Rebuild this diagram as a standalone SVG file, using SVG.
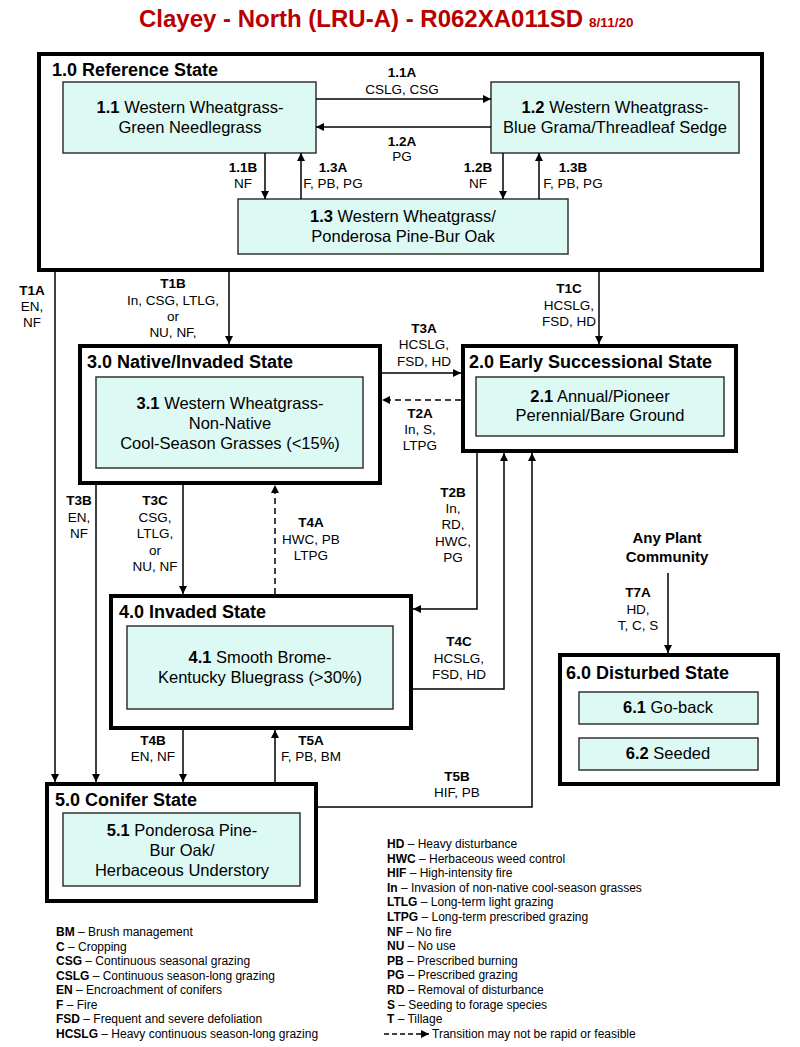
<svg xmlns="http://www.w3.org/2000/svg" width="800" height="1047" viewBox="0 0 800 1047">
<defs>
<marker id="ah" viewBox="0 0 10 10" refX="10" refY="5" markerWidth="9" markerHeight="8" markerUnits="userSpaceOnUse" orient="auto">
<path d="M0,0 L10,5 L0,10 z" fill="#000"/>
</marker>
<style>
text{font-family:"Liberation Sans",Arial,sans-serif;fill:#000}
.title{font-size:24px;font-weight:bold;fill:#b80000}
.date{font-size:13.5px;font-weight:bold;fill:#b80000}
.state{fill:#fff;stroke:#000;stroke-width:4}
.comm{fill:#ddf9f4;stroke:#333;stroke-width:1.5}
.sl{font-size:18px;font-weight:bold}
.ct{font-size:16.5px;text-anchor:middle}
.b{font-weight:bold}
.tl{font-size:13.5px;text-anchor:middle}
.c{fill:none;stroke:#000;stroke-width:1.5}
.a{marker-end:url(#ah)}
.d{stroke-dasharray:6,4}
.lg{font-size:12px}
</style>
</defs>
<rect width="800" height="1047" fill="#fff"/>
<text class="title" x="139" y="27">Clayey - North (LRU-A) - R062XA011SD<tspan class="date" dx="6">8/11/20</tspan></text>

<g id="state1">
<rect class="state" x="39" y="54" width="723" height="216"/>
<text class="sl" x="52" y="76">1.0 Reference State</text>
</g>
<g id="c1_1">
<rect class="comm" x="63" y="82" width="253" height="71"/>
<text class="ct" x="190" y="113"><tspan class="b">1.1</tspan> Western Wheatgrass-</text>
<text class="ct" x="190" y="133">Green Needlegrass</text>
</g>
<g id="c1_2">
<rect class="comm" x="491" y="82" width="248" height="71"/>
<text class="ct" x="615" y="113"><tspan class="b">1.2</tspan> Western Wheatgrass-</text>
<text class="ct" x="615" y="133">Blue Grama/Threadleaf Sedge</text>
</g>
<g id="c1_3">
<rect class="comm" x="238" y="199" width="330" height="55"/>
<text class="ct" x="403" y="222"><tspan class="b">1.3</tspan> Western Wheatgrass/</text>
<text class="ct" x="403" y="242">Ponderosa Pine-Bur Oak</text>
</g>

<g id="state3">
<rect class="state" x="80" y="346" width="300" height="137"/>
<text class="sl" x="87" y="368">3.0 Native/Invaded State</text>
</g>
<g id="c3_1">
<rect class="comm" x="96" y="377" width="267" height="91"/>
<text class="ct" x="230" y="409"><tspan class="b">3.1</tspan> Western Wheatgrass-</text>
<text class="ct" x="230" y="429">Non-Native</text>
<text class="ct" x="230" y="449">Cool-Season Grasses (&lt;15%)</text>
</g>

<g id="state2">
<rect class="state" x="463" y="346" width="273" height="105"/>
<text class="sl" x="469" y="368">2.0 Early Successional State</text>
</g>
<g id="c2_1">
<rect class="comm" x="476" y="377" width="248" height="59"/>
<text class="ct" x="600" y="402"><tspan class="b">2.1</tspan> Annual/Pioneer</text>
<text class="ct" x="600" y="421">Perennial/Bare Ground</text>
</g>

<g id="state4">
<rect class="state" x="111" y="596" width="300" height="132"/>
<text class="sl" x="119" y="618">4.0 Invaded State</text>
</g>
<g id="c4_1">
<rect class="comm" x="127" y="626" width="266" height="83"/>
<text class="ct" x="260" y="663"><tspan class="b">4.1</tspan> Smooth Brome-</text>
<text class="ct" x="260" y="683">Kentucky Bluegrass (&gt;30%)</text>
</g>

<g id="state5">
<rect class="state" x="47" y="784" width="269" height="117"/>
<text class="sl" x="55" y="806">5.0 Conifer State</text>
</g>
<g id="c5_1">
<rect class="comm" x="63" y="813" width="237" height="73"/>
<text class="ct" x="182" y="836"><tspan class="b">5.1</tspan> Ponderosa Pine-</text>
<text class="ct" x="182" y="856">Bur Oak/</text>
<text class="ct" x="182" y="876">Herbaceous Understory</text>
</g>

<g id="anyplant">
<text class="b" x="667" y="543" font-size="15" text-anchor="middle">Any Plant</text>
<text class="b" x="667" y="562" font-size="15" text-anchor="middle">Community</text>
</g>

<g id="state6">
<rect class="state" x="560" y="655" width="218" height="129"/>
<text class="sl" x="566" y="679">6.0 Disturbed State</text>
</g>
<g id="c6_1">
<rect class="comm" x="579" y="692" width="179" height="32"/>
<text class="ct" x="668" y="713"><tspan class="b">6.1</tspan> Go-back</text>
</g>
<g id="c6_2">
<rect class="comm" x="579" y="738" width="179" height="32"/>
<text class="ct" x="668" y="759"><tspan class="b">6.2</tspan> Seeded</text>
</g>

<g id="connectors">
<line class="c a" x1="316" y1="99" x2="491" y2="99"/>
<line class="c a" x1="491" y1="127" x2="316" y2="127"/>
<line class="c a" x1="265" y1="153" x2="265" y2="199"/>
<line class="c a" x1="301" y1="199" x2="301" y2="153"/>
<line class="c a" x1="503" y1="153" x2="503" y2="199"/>
<line class="c a" x1="539" y1="199" x2="539" y2="153"/>
<line class="c a" x1="55" y1="272" x2="55" y2="782"/>
<line class="c a" x1="229" y1="272" x2="229" y2="344"/>
<line class="c a" x1="599" y1="272" x2="599" y2="344"/>
<line class="c a" x1="382" y1="373" x2="461" y2="373"/>
<line class="c a d" x1="461" y1="400" x2="382" y2="400"/>
<polyline class="c a" points="477,453 477,609 413,609"/>
<polyline class="c a" points="413,689 504,689 504,453"/>
<polyline class="c a" points="318,807 532,807 532,453"/>
<line class="c a" x1="96" y1="485" x2="96" y2="782"/>
<line class="c a" x1="183" y1="485" x2="183" y2="594"/>
<line class="c a d" x1="275" y1="594" x2="275" y2="485"/>
<line class="c a" x1="183" y1="730" x2="183" y2="782"/>
<line class="c a" x1="275" y1="782" x2="275" y2="730"/>
<line class="c a" x1="668" y1="573" x2="668" y2="653"/>
</g>

<g id="labels">
<text class="tl b" x="402" y="77">1.1A</text>
<text class="tl" x="402" y="94">CSLG, CSG</text>
<text class="tl b" x="402" y="146">1.2A</text>
<text class="tl" x="402" y="161">PG</text>
<text class="tl b" x="243" y="172">1.1B</text>
<text class="tl" x="243" y="188">NF</text>
<text class="tl b" x="333" y="172">1.3A</text>
<text class="tl" x="333" y="188">F, PB, PG</text>
<text class="tl b" x="478" y="172">1.2B</text>
<text class="tl" x="478" y="188">NF</text>
<text class="tl b" x="573" y="172">1.3B</text>
<text class="tl" x="573" y="188">F, PB, PG</text>

<text class="tl b" x="32" y="295">T1A</text>
<text class="tl" x="32" y="311">EN,</text>
<text class="tl" x="32" y="327">NF</text>

<text class="tl b" x="173" y="288">T1B</text>
<text class="tl" x="173" y="305">In, CSG, LTLG,</text>
<text class="tl" x="173" y="321">or</text>
<text class="tl" x="173" y="337">NU, NF,</text>

<text class="tl b" x="569" y="293">T1C</text>
<text class="tl" x="569" y="310">HCSLG,</text>
<text class="tl" x="569" y="326">FSD, HD</text>

<text class="tl b" x="424" y="333">T3A</text>
<text class="tl" x="424" y="349">HCSLG,</text>
<text class="tl" x="424" y="366">FSD, HD</text>

<text class="tl b" x="420" y="418">T2A</text>
<text class="tl" x="420" y="434">In, S,</text>
<text class="tl" x="420" y="450">LTPG</text>

<text class="tl b" x="453" y="497">T2B</text>
<text class="tl" x="453" y="513">In,</text>
<text class="tl" x="453" y="529">RD,</text>
<text class="tl" x="453" y="546">HWC,</text>
<text class="tl" x="453" y="562">PG</text>

<text class="tl b" x="79" y="505">T3B</text>
<text class="tl" x="79" y="522">EN,</text>
<text class="tl" x="79" y="538">NF</text>

<text class="tl b" x="155" y="505">T3C</text>
<text class="tl" x="155" y="522">CSG,</text>
<text class="tl" x="155" y="538">LTLG,</text>
<text class="tl" x="155" y="555">or</text>
<text class="tl" x="155" y="571">NU, NF</text>

<text class="tl b" x="311" y="527">T4A</text>
<text class="tl" x="311" y="544">HWC, PB</text>
<text class="tl" x="311" y="560">LTPG</text>

<text class="tl b" x="459" y="646">T4C</text>
<text class="tl" x="459" y="663">HCSLG,</text>
<text class="tl" x="459" y="679">FSD, HD</text>

<text class="tl b" x="153" y="745">T4B</text>
<text class="tl" x="153" y="761">EN, NF</text>

<text class="tl b" x="311" y="745">T5A</text>
<text class="tl" x="311" y="761">F, PB, BM</text>

<text class="tl b" x="457" y="781">T5B</text>
<text class="tl" x="457" y="797">HIF, PB</text>

<text class="tl b" x="638" y="597">T7A</text>
<text class="tl" x="638" y="614">HD,</text>
<text class="tl" x="638" y="630">T, C, S</text>
</g>

<g id="legend">
<text class="lg" x="56" y="936"><tspan class="b">BM</tspan> – Brush management</text>
<text class="lg" x="56" y="950.5"><tspan class="b">C</tspan> – Cropping</text>
<text class="lg" x="56" y="965"><tspan class="b">CSG</tspan> – Continuous seasonal grazing</text>
<text class="lg" x="56" y="979.5"><tspan class="b">CSLG</tspan> – Continuous season-long grazing</text>
<text class="lg" x="56" y="994"><tspan class="b">EN</tspan> – Encroachment of conifers</text>
<text class="lg" x="56" y="1008.5"><tspan class="b">F</tspan> – Fire</text>
<text class="lg" x="56" y="1023"><tspan class="b">FSD</tspan> – Frequent and severe defoliation</text>
<text class="lg" x="56" y="1037.5"><tspan class="b">HCSLG</tspan> – Heavy continuous season-long grazing</text>

<text class="lg" x="387" y="848"><tspan class="b">HD</tspan> – Heavy disturbance</text>
<text class="lg" x="387" y="862.6"><tspan class="b">HWC</tspan> – Herbaceous weed control</text>
<text class="lg" x="387" y="877.2"><tspan class="b">HIF</tspan> – High-intensity fire</text>
<text class="lg" x="387" y="891.8"><tspan class="b">In</tspan> – Invasion of non-native cool-season grasses</text>
<text class="lg" x="387" y="906.4"><tspan class="b">LTLG</tspan> – Long-term light grazing</text>
<text class="lg" x="387" y="921"><tspan class="b">LTPG</tspan> – Long-term prescribed grazing</text>
<text class="lg" x="387" y="935.6"><tspan class="b">NF</tspan> – No fire</text>
<text class="lg" x="387" y="950.2"><tspan class="b">NU</tspan> – No use</text>
<text class="lg" x="387" y="964.8"><tspan class="b">PB</tspan> – Prescribed burning</text>
<text class="lg" x="387" y="979.4"><tspan class="b">PG</tspan> – Prescribed grazing</text>
<text class="lg" x="387" y="994"><tspan class="b">RD</tspan> – Removal of disturbance</text>
<text class="lg" x="387" y="1008.6"><tspan class="b">S</tspan> – Seeding to forage species</text>
<text class="lg" x="387" y="1023.2"><tspan class="b">T</tspan> – Tillage</text>
<line class="c a" x1="384" y1="1034" x2="429" y2="1034" stroke-dasharray="5,3" stroke-width="1.8"/>
<text class="lg" x="432" y="1037.8">Transition may not be rapid or feasible</text>
</g>
</svg>
